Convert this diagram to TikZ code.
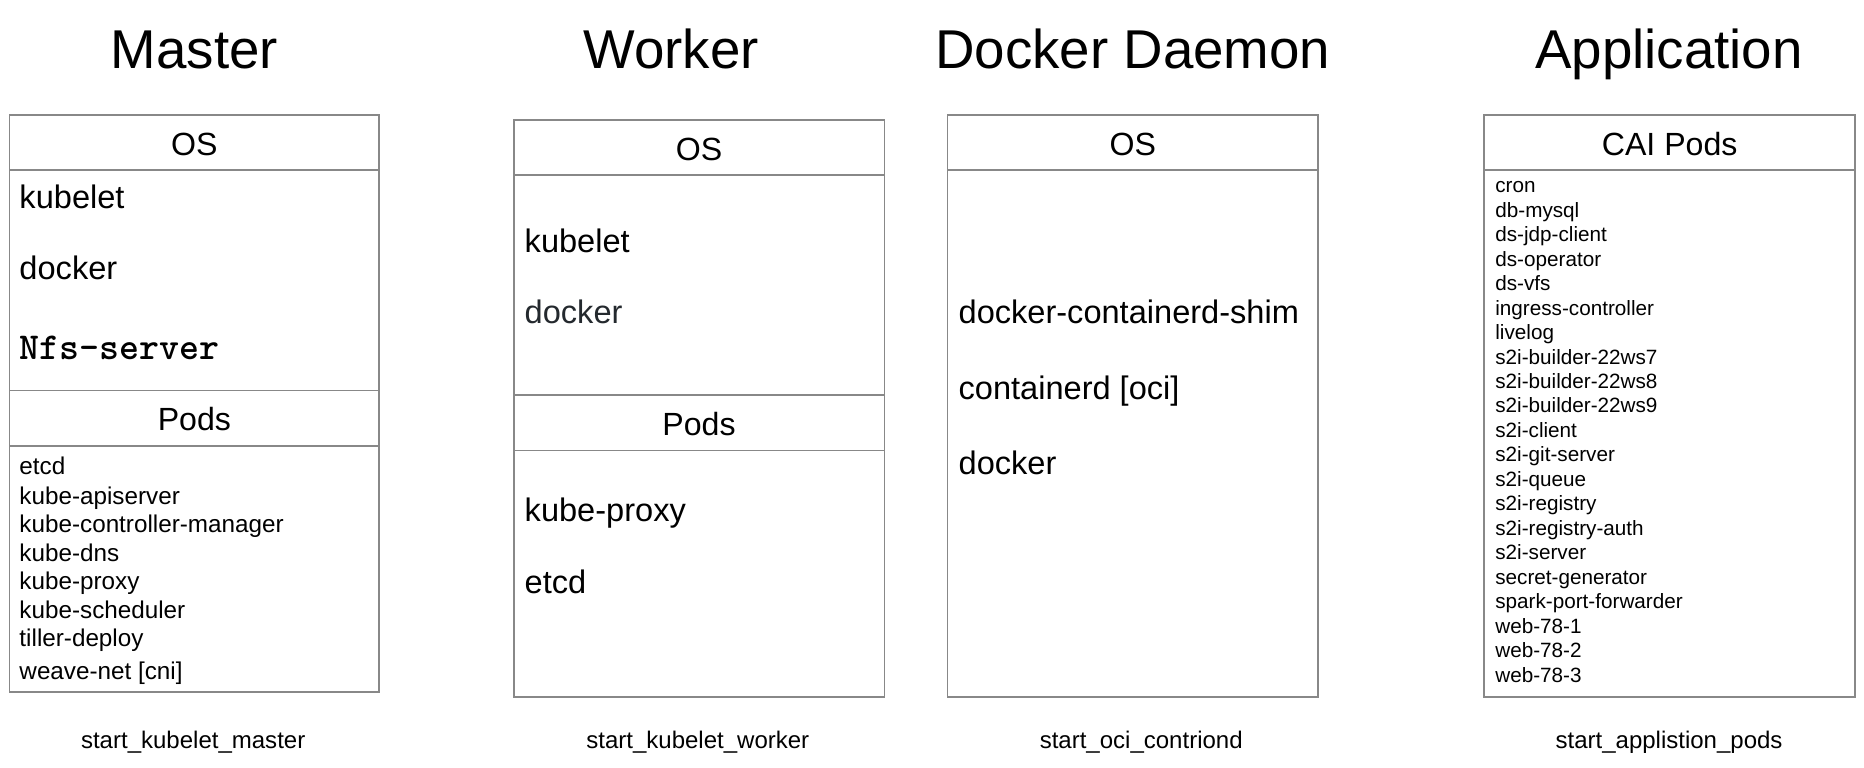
\documentclass[tikz,border=0pt]{standalone}
\usepackage{fontspec}
\setmainfont{Liberation Sans}
\usepackage{tikz}
\usetikzlibrary{positioning}
\definecolor{boxgray}{HTML}{888888}
\definecolor{darkslate}{HTML}{24292E}

\tikzset{
  box/.style={draw=boxgray, line width=0.8pt},
  ttl/.style={anchor=base, font=\fontsize{23}{26}\selectfont},
  hdr/.style={anchor=base, font=\fontsize{13.5}{16}\selectfont},
  big/.style={anchor=base west, inner sep=0pt, font=\fontsize{13.7}{16}\selectfont},
  pod/.style={anchor=base west, inner sep=0pt, font=\fontsize{10.2}{12}\selectfont},
  app/.style={anchor=base west, inner sep=0pt, font=\fontsize{8.7}{10}\selectfont},
  caption/.style={anchor=base, font=\fontsize{10.1}{12}\selectfont}
}

\begin{document}
\begin{tikzpicture}[x=0.5pt, y=-0.5pt]
  \useasboundingbox (0,0) rectangle (1568,646);

  % titles
  \node[ttl] (tmaster) at (163.5,58) {Master};
  \node[ttl] (tworker) at (564.5,58) {Worker};
  \node[ttl] (tdocker) at (953,58) {Docker Daemon};
  \node[ttl] (tapp) at (1404,58) {Application};

  % master
  \draw[box] (8,97) rectangle (319,582);
  \draw[box] (8,143) -- (319,143);
  \draw[box] (8,328.5) -- (319,328.5);
  \draw[box] (8,375) -- (319,375);
  \node[hdr] (mos) at (163.5,131) {OS};
  \node[big] (mkubelet) at (16,175) {kubelet};
  \node[big] (mdocker) at (16,235) {docker};
  \node[big, font=\fontsize{16}{18}\ttfamily\bfseries] (mnfs) at (16,302) {Nfs-server};
  \node[hdr] (mpods) at (163.5,362.5) {Pods};
  \foreach \y/\name in {399.5/etcd, 424/kube-apiserver, 448/kube-controller-manager,
      472/kube-dns, 496/kube-proxy, 520/kube-scheduler, 544/tiller-deploy, 571.5/weave-net [cni]}
    \node[pod] at (16,\y) {\name};

  % worker
  \draw[box] (432,101) rectangle (744,586);
  \draw[box] (432,147) -- (744,147);
  \draw[box] (432,332.5) -- (744,332.5);
  \draw[box] (432,379) -- (744,379);
  \node[hdr] (wos) at (588,135) {OS};
  \node[big] (wkubelet) at (441,212) {kubelet};
  \node[big, text=darkslate] (wdocker) at (441,272) {docker};
  \node[hdr] (wpods) at (588,366.5) {Pods};
  \node[big] (wproxy) at (441,438.5) {kube-proxy};
  \node[big] (wetcd) at (441,499.5) {etcd};

  % docker daemon
  \draw[box] (797,97) rectangle (1109,586);
  \draw[box] (797,143) -- (1109,143);
  \node[hdr] (dos) at (953,131) {OS};
  \node[big] (dshim) at (806,272) {docker-containerd-shim};
  \node[big] (dcontainerd) at (806,336) {containerd [oci]};
  \node[big] (ddocker) at (806,399.5) {docker};

  % application
  \draw[box] (1248.5,97) rectangle (1560.5,586);
  \draw[box] (1248.5,143) -- (1560.5,143);
  \node[hdr] (cai) at (1404.5,131) {CAI Pods};
  \foreach \name [count=\i from 0] in {cron, db-mysql, ds-jdp-client, ds-operator, ds-vfs,
      ingress-controller, livelog, s2i-builder-22ws7, s2i-builder-22ws8, s2i-builder-22ws9,
      s2i-client, s2i-git-server, s2i-queue, s2i-registry, s2i-registry-auth, s2i-server,
      secret-generator, spark-port-forwarder, web-78-1, web-78-2, web-78-3}
    \node[app] at (1257.5,162+20.6*\i) {\name};

  % captions
  \node[caption] (cmaster) at (162.5,630) {start\_kubelet\_master};
  \node[caption] (cworker) at (587,630) {start\_kubelet\_worker};
  \node[caption] (cdocker) at (960,630) {start\_oci\_contriond};
  \node[caption] (capp) at (1404,630) {start\_applistion\_pods};
\end{tikzpicture}
\end{document}
